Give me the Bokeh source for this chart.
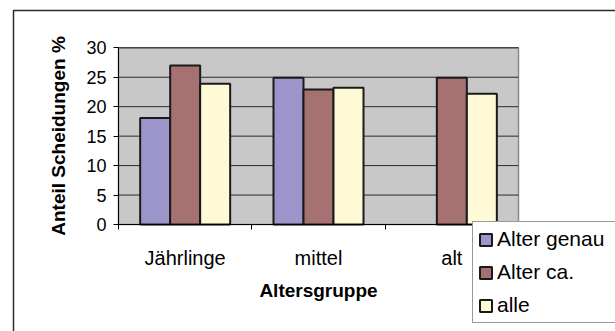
import math

from bokeh.embed import file_html
from bokeh.models import (BoxAnnotation, FixedTicker, Legend, LegendItem,
                          LinearAxis, Range1d)
from bokeh.plotting import figure
from bokeh.resources import INLINE

# Share of divorces (%) by age group, for three ways of determining age
categories = ["Jährlinge", "mittel", "alt"]
series_names = ["Alter genau", "Alter ca.", "alle"]
alter_genau = [18.1, 24.9, float("nan")]
alter_ca = [27.0, 22.9, 24.9]
alle = [23.9, 23.2, 22.2]
y_ticks = [0, 5, 10, 15, 20, 25, 30]

series_values = [alter_genau, alter_ca, alle]
series_colors = ["#9C95CB", "#A57171", "#FFFAD6"]

FONT = "Liberation Sans"
W, H = 615, 331

# The frame fills the whole canvas; the ranges are chosen so that the
# plot area (0..n groups, 0..30 %) sits at the wanted place inside it.
n = len(categories)
y_max = y_ticks[-1]
area_left, area_right, area_top, area_base = 118, 518, 47.3, 224
x_per_px = n / (area_right - area_left)
y_per_px = y_max / (area_base - area_top)
x_start = -area_left * x_per_px
y_end = area_base * y_per_px


def px_x(px):
    return x_start + px * x_per_px


def px_y(py):
    return y_end - py * y_per_px


p = figure(width=W, height=H, output_backend="svg", toolbar_location=None,
           x_range=Range1d(x_start, px_x(W)), y_range=Range1d(px_y(H), y_end),
           x_axis_location=None, y_axis_location=None,
           min_border_left=0, min_border_right=0,
           min_border_top=0, min_border_bottom=0)
p.background_fill_color = "white"
p.border_fill_color = "white"
p.outline_line_color = None
p.xgrid.visible = False
p.ygrid.visible = False

# outer chart border
p.add_layout(BoxAnnotation(left=px_x(13), right=px_x(W + 40),
                           top=px_y(10), bottom=px_y(H + 40),
                           fill_alpha=0, line_color="#2A2A2A", line_alpha=1,
                           line_width=1.5, level="underlay"))

# grey plot area
p.add_layout(BoxAnnotation(left=0, right=n, bottom=0, top=y_max,
                           fill_color="#C8C8C8", fill_alpha=1,
                           line_color="#8A8A8A", line_alpha=1, line_width=1.5,
                           level="underlay"))

# horizontal grid lines across the plot area
p.segment(x0=[0] * len(y_ticks), x1=[n] * len(y_ticks), y0=y_ticks, y1=y_ticks,
          line_color="#2A2A2A", line_width=1)

# clustered bars: three bars per age group, centred in each slot
bar_w = 0.225
legend_items = []
for k, (name, vals, col) in enumerate(zip(series_names, series_values, series_colors)):
    xs, tops = [], []
    for i, v in enumerate(vals):
        if not math.isnan(v):
            xs.append(i + 0.5 + (k - 1) * bar_w)
            tops.append(v)
    r = p.vbar(x=xs, top=tops, bottom=0, width=bar_w, fill_color=col,
               line_color="#1A1A1A", line_width=2)
    legend_items.append(LegendItem(label=name, renderers=[r]))

# y axis
yaxis = LinearAxis(fixed_location=0, bounds=(0, y_max),
                   ticker=FixedTicker(ticks=y_ticks))
yaxis.major_tick_out = 5
yaxis.major_tick_in = 0
yaxis.minor_tick_out = 0
yaxis.major_label_standoff = 7
yaxis.major_label_text_font = FONT
yaxis.major_label_text_font_size = "18px"
yaxis.major_label_text_color = "black"
yaxis.axis_line_color = "black"
yaxis.major_tick_line_color = "black"
yaxis.axis_label = "Anteil Scheidungen %"
yaxis.axis_label_text_font = FONT
yaxis.axis_label_text_font_style = "bold"
yaxis.axis_label_text_font_size = "19px"
yaxis.axis_label_text_color = "black"
yaxis.axis_label_standoff = 14
p.add_layout(yaxis, "left")

# x axis: tick marks between groups, labels under group centres
centres = [i + 0.5 for i in range(n)]
xaxis = LinearAxis(fixed_location=0, bounds=(0, n),
                   ticker=FixedTicker(ticks=centres, minor_ticks=list(range(n + 1))))
xaxis.major_label_overrides = {c: name for c, name in zip(centres, categories)}
xaxis.major_tick_out = 0
xaxis.major_tick_in = 0
xaxis.minor_tick_out = 5
xaxis.minor_tick_in = 0
xaxis.minor_tick_line_color = "black"
xaxis.axis_line_color = "black"
xaxis.major_label_standoff = 17
xaxis.major_label_text_font = FONT
xaxis.major_label_text_font_size = "20px"
xaxis.major_label_text_color = "black"
xaxis.axis_label = "Altersgruppe"
xaxis.axis_label_text_font = FONT
xaxis.axis_label_text_font_style = "bold"
xaxis.axis_label_text_font_size = "19px"
xaxis.axis_label_text_color = "black"
xaxis.axis_label_standoff = 8
p.add_layout(xaxis, "below")

legend = Legend(items=legend_items, location=(472, H - 323))
legend.label_text_font = FONT
legend.label_text_font_size = "21px"
legend.label_text_color = "black"
legend.glyph_width = 15
legend.glyph_height = 15
legend.label_height = 20
legend.label_width = 125
legend.label_standoff = 4
legend.spacing = 9
legend.padding = 5
legend.margin = 0
legend.border_line_color = "#333333"
legend.border_line_width = 1
legend.background_fill_color = "white"
legend.background_fill_alpha = 1
p.add_layout(legend, "center")

open("out.html", "w").write(file_html(p, INLINE))
